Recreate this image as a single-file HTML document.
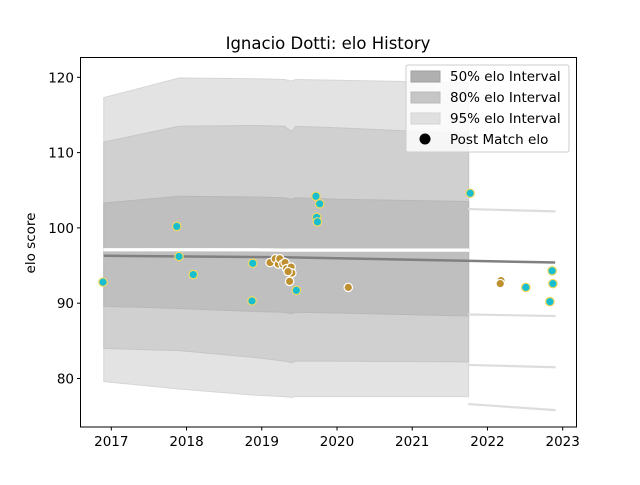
<!DOCTYPE html>
<html><head><meta charset="utf-8"><style>
body{margin:0;background:#fff}
svg text{font-family:"DejaVu Sans","Liberation Sans",sans-serif;fill:#000}
</style></head><body>
<svg id="chart" width="640" height="480" viewBox="0 0 640 480" xmlns="http://www.w3.org/2000/svg">
<rect width="640" height="480" fill="#fff"/>
<g id="bands"></g>
<g id="points"></g>
<g id="axes"></g>
<text x="328" y="49" font-size="16.5" text-anchor="middle">Ignacio Dotti: elo History</text>
<text transform="translate(35,243) rotate(-90)" font-size="13.5" text-anchor="middle">elo score</text>
<g>
<rect x="406" y="65" width="163" height="87" rx="2" fill="#fff" fill-opacity="0.8" stroke="#ccc"/>
<g><rect x="411" y="71" width="29" height="11" fill="#b0b0b0" stroke="#a0a0a0"/><text x="450" y="81" font-size="13.5">50% elo Interval</text></g>
<g><rect x="411" y="92" width="29" height="11" fill="#c6c6c6" stroke="#bbb"/><text x="450" y="102" font-size="13.5">80% elo Interval</text></g>
<g><rect x="411" y="113" width="29" height="11" fill="#e0e0e0" stroke="#d4d4d4"/><text x="450" y="123" font-size="13.5">95% elo Interval</text></g>
<g><circle cx="425" cy="139" r="5.5" fill="#000"/><text x="450" y="144" font-size="13.5">Post Match elo</text></g>
</g>
</svg>
<script>
const bandYears=[2016.9,2017.9,2018.9,2019.3,2019.4,2019.45,2020,2021.75];
const up95=[117.3,119.9,119.8,119.7,119.5,119.7,119.6,119.3];
const lo95=[79.6,78.6,77.8,77.6,77.5,77.6,77.6,77.6];
const up80=[111.4,113.5,113.6,113.5,112.8,113.5,113.3,112.5];
const lo80=[84,83.7,82.8,82.3,82.1,82.3,82.3,82.2];
const up50=[103.3,104.2,104.1,104.0,103.8,104,103.8,103.5];
const lo50=[89.6,89.3,88.9,88.8,88.6,88.8,88.7,88.3];
const gapLo=[96.95,96.95,96.95,96.9,96.9,96.9,96.9,96.9];
const gapHi=[97.25,97.25,97.25,97.2,97.2,97.2,97.2,97.2];
const tailYears=[2021.75,2022.9];
const tailBands=[[102.5,102.2],[88.5,88.3],[81.8,81.5],[76.6,75.8]];
const meanYears=[2016.9,2019.3,2022.9];
const meanVals=[96.3,96.1,95.4];
const cyanYears=[2016.89,2017.87,2017.90,2018.09,2018.88,2018.87,2019.46,2019.72,2019.77,2019.73,2019.74,2021.77,2022.51,2022.86,2022.87,2022.83];
const cyanVals=[92.8,100.2,96.2,93.8,95.3,90.3,91.7,104.2,103.2,101.4,100.8,104.6,92.1,94.3,92.6,90.2];
const goldYears=[2019.11,2019.18,2019.22,2019.24,2019.28,2019.31,2019.33,2019.39,2019.40,2019.37,2019.35,2020.15,2022.18,2022.17];
const goldVals=[95.4,95.9,95.2,95.9,95.2,95.4,94.6,94.8,94.0,92.9,94.2,92.1,93.0,92.6];
const xTicks=[2017,2018,2019,2020,2021,2022,2023];
const yTicks=[80,90,100,110,120];

const NS='http://www.w3.org/2000/svg';
const X=y=>111.3+(y-2017)*75.23;
const Y=v=>77.3+(120-v)*7.53;
function mk(tag,attrs,parent){const e=document.createElementNS(NS,tag);for(const k in attrs)e.setAttribute(k,attrs[k]);parent.appendChild(e);return e;}
const bands=document.getElementById('bands');
function band(xs,u,l,fill,stroke,name){
  let pts=xs.map((x,i)=>X(x)+','+Y(u[i]));
  for(let i=xs.length-1;i>=0;i--)pts.push(X(xs[i])+','+Y(l[i]));
  const p=mk('polygon',{points:pts.join(' '),fill:fill,stroke:stroke,'stroke-width':1},bands);
  
  
}
band(bandYears,up95,lo95,'#e3e3e3','#d6d6d6','band-95');
band(bandYears,up80,lo80,'#d0d0d0','#c6c6c6','band-80');
band(bandYears,up50,lo50,'#bfbfbf','#b8b8b8','band-50');
band(bandYears,gapHi,gapLo,'#ffffff','#ffffff','band-gap');
tailBands.forEach((t,i)=>{
  band(tailYears,t.map(v=>v+0.08),t.map(v=>v-0.08),'#dddddd','#dddddd','tail-band-'+i);
});
const ml=mk('polyline',{points:meanYears.map((x,i)=>X(x)+','+Y(meanVals[i])).join(' '),fill:'none',stroke:'#808080','stroke-width':2.5},bands);



const pg=document.getElementById('points');
goldYears.forEach((x,i)=>{
  const c=mk('circle',{cx:X(x),cy:Y(goldVals[i]),r:4.2,fill:'#bf9030',stroke:'#fff','stroke-width':1.2},pg);
  
  
});
cyanYears.forEach((x,i)=>{
  const c=mk('circle',{cx:X(x),cy:Y(cyanVals[i]),r:4.2,fill:'#17becf',stroke:'#f0d860','stroke-width':1.2},pg);
  
  
});

const ax=document.getElementById('axes');
mk('rect',{x:80.5,y:57.5,width:496,height:369.5,fill:'none',stroke:'#000','stroke-width':1},ax);
xTicks.forEach(t=>{
  mk('line',{x1:X(t),x2:X(t),y1:427,y2:430.5,stroke:'#000'},ax);
  const tx=mk('text',{x:X(t),y:446,'font-size':13.5,'text-anchor':'middle'},ax);
  tx.textContent=t;
  
  
});
yTicks.forEach(t=>{
  mk('line',{x1:77,x2:80.5,y1:Y(t),y2:Y(t),stroke:'#000'},ax);
  const tx=mk('text',{x:74,y:Y(t)+5,'font-size':13.5,'text-anchor':'end'},ax);
  tx.textContent=t;
  
  
});
</script>
</body></html>
